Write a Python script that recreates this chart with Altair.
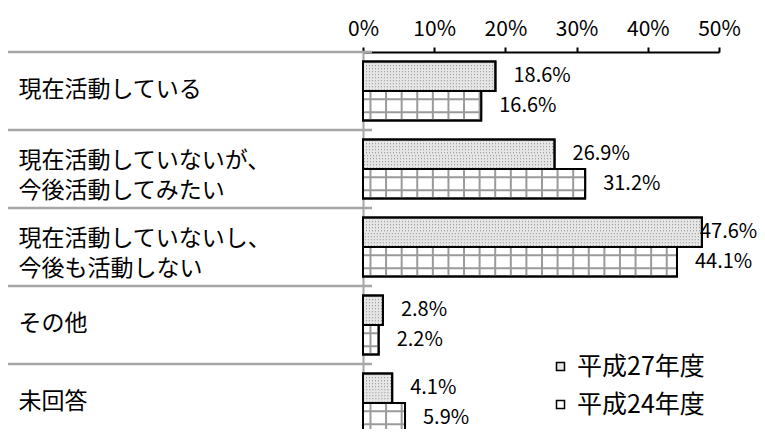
import altair as alt
import pandas as pd

FONT = "Noto Sans CJK JP"

categories = [
    "現在活動している",
    "現在活動していないが、\n今後活動してみたい",
    "現在活動していないし、\n今後も活動しない",
    "その他",
    "未回答",
]
series = ["平成27年度", "平成24年度"]
h27 = [18.6, 26.9, 47.6, 2.8, 4.1]
h24 = [16.6, 31.2, 44.1, 2.2, 5.9]
x_ticks = [0, 10, 20, 30, 40, 50]

rows = []
for c, a, b in zip(categories, h27, h24):
    rows.append({"cat": c, "series": series[0], "v": a})
    rows.append({"cat": c, "series": series[1], "v": b})
df = pd.DataFrame(rows)

# grid-pattern (texture) lines for the 平成24年度 bars
grid_rows = []
for c, b in zip(categories, h24):
    p = 0.91
    while p < b - 0.3:
        grid_rows.append({"cat": c, "series": series[1], "p": p, "p2": p + 0.28})
        p += 2.19
grid = pd.DataFrame(grid_rows)
cats_df = pd.DataFrame({"cat": categories})

y_axis = alt.Axis(
    title=None, domainColor="#a6a6a6", domainWidth=2, ticks=False, tickSize=0,
    labelAlign="left", labelPadding=345, labelFontSize=23, labelColor="black",
    labelFont=FONT, labelExpr="split(datum.label, '\\n')", labelLineHeight=30,
    labelBaseline="middle", labelLimit=0,
    labelOffset={"condition": {"test": "indexof(datum.label, '\\n') >= 0", "value": -8}, "value": -1},
)
y_scale = alt.Scale(range=[0, 390], paddingInner=0, paddingOuter=0)
Y = alt.Y("cat:N", sort=categories, scale=y_scale, axis=y_axis)
YO = alt.YOffset("series:N", sort=series, scale=alt.Scale(paddingInner=0, paddingOuter=0.32))

x_axis = alt.Axis(
    orient="top", values=x_ticks, labelExpr="datum.value + '%'", title=None, grid=False,
    domainColor="black", domainWidth=2, tickColor="black", tickWidth=2, tickSize=5,
    labelFontSize=21, labelPadding=8, labelFont=FONT, labelColor="black",
    labelFlush=False, labelOverlap=False,
)
x_scale = alt.Scale(domain=[0, 50], nice=False)
XV = alt.X("v:Q", scale=x_scale, axis=x_axis)

base = alt.Chart(df)

bars = base.mark_bar(stroke="black", strokeWidth=2).encode(
    x=XV, y=Y, yOffset=YO,
    fill=alt.Fill(
        "series:N", sort=series,
        scale=alt.Scale(domain=series, range=["#e6e6e6", "white"]),
        legend=alt.Legend(
            title=None, orient="none", legendX=185, legendY=302, symbolType="square",
            symbolSize=64, symbolStrokeColor="black", symbolStrokeWidth=1.5,
            labelFontSize=25, labelFont=FONT, labelOffset=4, rowPadding=12,
            labelColor="black",
        ),
    ),
)

# dotted texture for the 平成27年度 bars (rows of dashed outlines)
dot_layers = [
    base.transform_filter(alt.datum.series == series[0]).mark_bar(
        height=h, fillOpacity=0, stroke="#8c8c8c", strokeWidth=1, strokeDash=[1, 2]
    ).encode(x=XV, y=Y, yOffset=YO)
    for h in [3, 9, 15, 21, 27]
]

vlines = alt.Chart(grid).mark_bar(color="#9a9a9a").encode(
    x=alt.X("p:Q", scale=x_scale, axis=x_axis), x2="p2:Q", y=Y, yOffset=YO,
)

hlines = base.transform_filter(alt.datum.series == series[1]).mark_bar(
    height=13, fillOpacity=0, stroke="#9a9a9a", strokeWidth=2
).encode(x=XV, y=Y, yOffset=YO)

outline = base.mark_bar(fillOpacity=0, stroke="black", strokeWidth=2).encode(
    x=XV, y=Y, yOffset=YO,
)

labels = base.transform_calculate(
    lx="min(datum.v, 44.8)", lab="format(datum.v, '.1f') + '%'"
).mark_text(align="left", baseline="middle", dx=18, fontSize=20, font=FONT, color="black").encode(
    x=alt.X("lx:Q", scale=x_scale, axis=x_axis), y=Y, yOffset=YO, text="lab:N",
)

seps = alt.Chart(cats_df).mark_rule(color="#a6a6a6", strokeWidth=2.5).encode(
    y=alt.Y("cat:N", sort=categories, scale=y_scale, axis=y_axis, bandPosition=0),
    x=alt.value(-355), x2=alt.value(9),
)

chart = alt.layer(bars, *dot_layers, vlines, hlines, outline, labels, seps).properties(
    width=356, height=377,
    autosize=alt.AutoSizeParams(type="none"),
    padding={"left": 355, "top": 44, "right": 38, "bottom": 0},
    background="white",
).configure_view(stroke=None)

chart.save("out.html", embed_options={"renderer": "svg", "actions": False})
